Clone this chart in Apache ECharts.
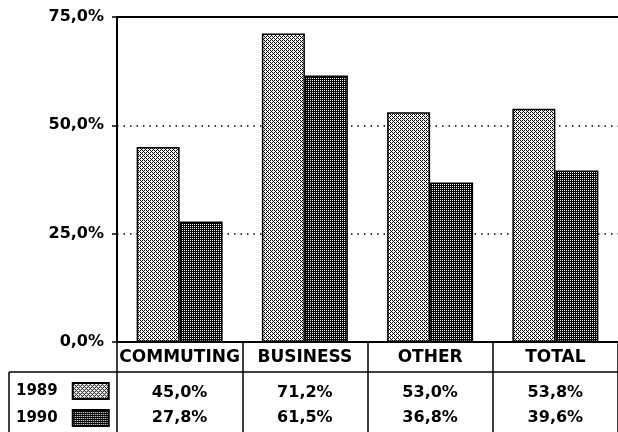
<!DOCTYPE html>
<html>
<head>
<meta charset="utf-8">
<script src="https://cdn.jsdelivr.net/npm/echarts@6/dist/echarts.min.js"></script>
<style>
  html, body { margin: 0; padding: 0; background: #fff; }
  #chart { width: 618px; height: 432px; }
</style>
</head>
<body>
<div id="chart"></div>
<script>
// Share of trips by purpose, 1989 vs 1990
const categories = ['COMMUTING', 'BUSINESS', 'OTHER', 'TOTAL'];
const years = ['1989', '1990'];
const values1989 = [45.0, 71.2, 53.0, 53.8];
const values1990 = [27.8, 61.5, 36.8, 39.6];
const yMin = 0;
const yMax = 75;
const yStep = 25;

const FONT = 'DejaVu Sans';
const fmt = v => v.toFixed(1).replace('.', ',') + '%';

// Stipple fills: light dot screen for 1989, white pin-dots on black for 1990
function stipple(dark) {
  const c = document.createElement('canvas');
  const g = c.getContext('2d');
  if (dark) {
    c.width = 2; c.height = 2;
    g.fillStyle = '#000';
    g.fillRect(0, 0, 2, 2);
    g.fillStyle = '#fff';
    g.fillRect(0, 0, 1, 1);
  } else {
    c.width = 4; c.height = 4;
    g.fillStyle = '#fff';
    g.fillRect(0, 0, 4, 4);
    g.fillStyle = '#000';
    [[0, 0], [2, 0], [1, 1], [0, 2], [2, 2], [3, 3]].forEach(([x, y]) => g.fillRect(x, y, 1, 1));
  }
  return { image: c, repeat: 'repeat' };
}

const labelFont = { fontFamily: FONT, fontWeight: 'bold', fontSize: 16, color: '#000' };
const black = '#000';

const chart = echarts.init(document.getElementById('chart'), null, { renderer: 'canvas' });

chart.setOption({
  animation: false,
  backgroundColor: '#fff',
  grid: { left: 117, right: 0, top: 17, bottom: 90, containLabel: false },
  legend: {
    data: years,
    orient: 'vertical',
    left: 16,
    top: 382,
    padding: 0,
    align: 'right',
    icon: 'rect',
    itemWidth: 36,
    itemHeight: 16,
    itemGap: 9,
    selectedMode: false,
    textStyle: { fontFamily: FONT, fontWeight: 'bold', fontSize: 15, color: black, padding: [0, 10, 0, 0] }
  },
  xAxis: [
    {
      type: 'category',
      data: categories,
      position: 'bottom',
      axisLine: { lineStyle: { color: black, width: 2 } },
      axisTick: { show: true, length: 90, lineStyle: { color: black, width: 1.5 } },
      axisLabel: Object.assign({ margin: 7, interval: 0 }, labelFont, { fontSize: 17 })
    },
    {
      type: 'category',
      data: values1989.map(fmt),
      position: 'bottom',
      offset: 35,
      axisLine: { show: false },
      axisTick: { show: false },
      axisLabel: Object.assign({ margin: 8, interval: 0 }, labelFont)
    },
    {
      type: 'category',
      data: values1990.map(fmt),
      position: 'bottom',
      offset: 60,
      axisLine: { show: false },
      axisTick: { show: false },
      axisLabel: Object.assign({ margin: 8, interval: 0 }, labelFont)
    },
    {
      type: 'category',
      data: categories,
      position: 'top',
      axisLine: { lineStyle: { color: black, width: 2 } },
      axisTick: { show: false },
      axisLabel: { show: false }
    }
  ],
  yAxis: {
    type: 'value',
    min: yMin,
    max: yMax,
    interval: yStep,
    axisLine: { show: true, lineStyle: { color: black, width: 2 } },
    axisTick: { show: true, length: 5, lineStyle: { color: black, width: 1.5 } },
    axisLabel: Object.assign({ margin: 13, formatter: v => fmt(v) }, labelFont),
    splitLine: { show: true, lineStyle: { color: black, width: 1.5, type: [1.5, 5] } }
  },
  series: [
    {
      name: years[0],
      type: 'bar',
      xAxisIndex: 0,
      data: values1989,
      barWidth: 43,
      barGap: '0%',
      itemStyle: { color: stipple(false), borderColor: black, borderWidth: 1.5 }
    },
    {
      name: years[1],
      type: 'bar',
      xAxisIndex: 0,
      data: values1990,
      barWidth: 43,
      barGap: '0%',
      itemStyle: { color: stipple(true), borderColor: black, borderWidth: 1.5 }
    }
  ],
  graphic: [
    // table frame: header rule and left edge
    { type: 'line', shape: { x1: 9, y1: 372, x2: 618, y2: 372 }, style: { stroke: black, lineWidth: 1.5 }, silent: true },
    { type: 'line', shape: { x1: 9, y1: 372, x2: 9, y2: 432 }, style: { stroke: black, lineWidth: 1.5 }, silent: true }
  ]
});
</script>
</body>
</html>
